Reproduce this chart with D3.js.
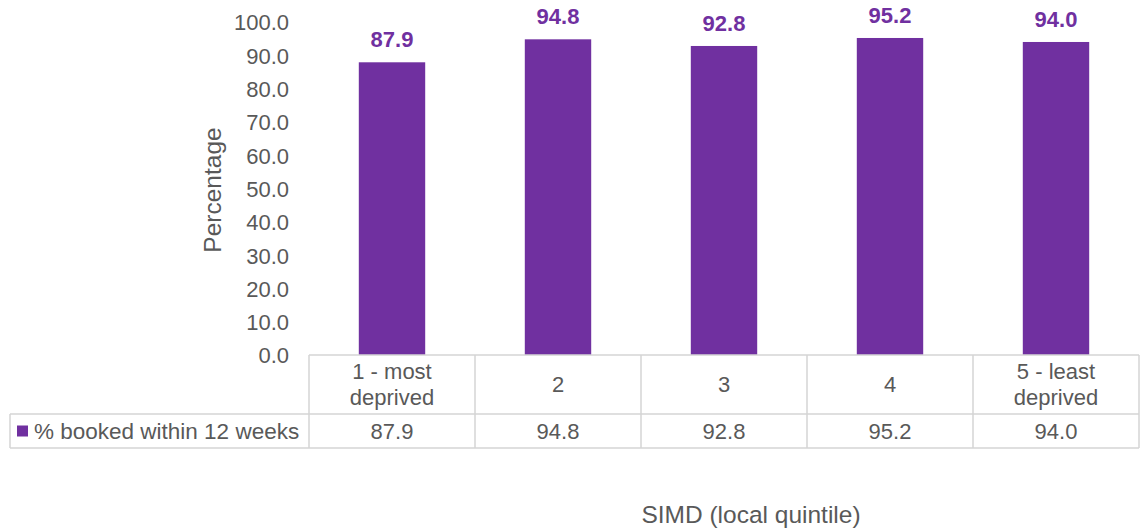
<!DOCTYPE html>
<html>
<head>
<meta charset="utf-8">
<script src="https://cdn.jsdelivr.net/npm/d3@7"></script>
<style>
  html, body { margin: 0; padding: 0; background: #fff; }
  svg { display: block; font-family: "Liberation Sans", Arial, sans-serif; }
</style>
</head>
<body>
<svg id="chart" width="1140" height="530"></svg>
<script>
const categories = [["1 - most", "deprived"], ["2"], ["3"], ["4"], ["5 - least", "deprived"]];
const categoryKeys = ["1 - most deprived", "2", "3", "4", "5 - least deprived"];
const values = [87.9, 94.8, 92.8, 95.2, 94.0];
const seriesName = "% booked within 12 weeks";
const yTicks = [0, 10, 20, 30, 40, 50, 60, 70, 80, 90, 100];
const yTitle = "Percentage";
const xTitle = "SIMD (local quintile)";

const svg = d3.select("#chart");
const purple = "#7030a0";
const grey = "#595959";
const border = "#d4d4d4";

const plotLeft = 309, plotRight = 1139, plotTop = 22, plotBottom = 355;
const row1Bottom = 414, row2Bottom = 448, tableLeft = 10;

const x = d3.scaleBand().domain(categoryKeys).range([plotLeft, plotRight]).paddingInner(0.6).paddingOuter(0.3);
const xCol = d3.scaleBand().domain(categoryKeys).range([plotLeft, plotRight]).padding(0);
const y = d3.scaleLinear().domain([0, 100]).range([plotBottom, plotTop]);

// Y axis (labels only)
const yAxis = d3.axisLeft(y).tickValues(yTicks).tickFormat(d3.format(".1f")).tickSize(0).tickPadding(0);
const yg = svg.append("g").attr("transform", `translate(289,0)`).call(yAxis);
yg.select(".domain").remove();
yg.selectAll("text").attr("fill", grey).style("font-size", "22px").attr("dy", "0.36em");

// Bars
svg.append("g").selectAll("rect").data(values).join("rect")
  .attr("x", (d, i) => x(categoryKeys[i]))
  .attr("width", x.bandwidth())
  .attr("y", d => y(d))
  .attr("height", d => y(0) - y(d))
  .attr("fill", purple);

// Data labels
svg.append("g").selectAll("text").data(values).join("text")
  .attr("x", (d, i) => x(categoryKeys[i]) + x.bandwidth() / 2)
  .attr("y", d => y(d) - 15)
  .attr("text-anchor", "middle")
  .attr("fill", purple)
  .style("font-size", "22px")
  .style("font-weight", "bold")
  .text(d => d3.format(".1f")(d));

// Table lines
const tg = svg.append("g").attr("stroke", border).attr("stroke-width", 1.5).attr("fill", "none");
tg.append("line").attr("x1", plotLeft).attr("x2", plotRight).attr("y1", plotBottom).attr("y2", plotBottom);
tg.append("line").attr("x1", tableLeft).attr("x2", plotRight).attr("y1", row1Bottom).attr("y2", row1Bottom);
tg.append("line").attr("x1", tableLeft).attr("x2", plotRight).attr("y1", row2Bottom).attr("y2", row2Bottom);
tg.append("line").attr("x1", tableLeft).attr("x2", tableLeft).attr("y1", row1Bottom).attr("y2", row2Bottom);
const bounds = categoryKeys.map(k => xCol(k)).concat([plotRight]);
tg.selectAll("line.v").data(bounds).join("line").attr("class", "v")
  .attr("x1", d => d).attr("x2", d => d).attr("y1", plotBottom).attr("y2", row2Bottom);

// Category labels
const catG = svg.append("g");
categories.forEach((lines, i) => {
  const cx = xCol(categoryKeys[i]) + xCol.bandwidth() / 2;
  const midY = (plotBottom + row1Bottom) / 2;
  const lh = 26;
  const startY = midY - (lines.length - 1) * lh / 2;
  lines.forEach((t, j) => {
    catG.append("text").attr("x", cx).attr("y", startY + j * lh).attr("dy", "0.36em")
      .attr("text-anchor", "middle").attr("fill", grey).style("font-size", "22px").text(t);
  });
});

// Value row
const rowMid = (row1Bottom + row2Bottom) / 2;
svg.append("g").selectAll("text").data(values).join("text")
  .attr("x", (d, i) => xCol(categoryKeys[i]) + xCol.bandwidth() / 2)
  .attr("y", rowMid).attr("dy", "0.36em")
  .attr("text-anchor", "middle").attr("fill", grey).style("font-size", "22px")
  .text(d => d3.format(".1f")(d));

// Legend key in table
svg.append("rect").attr("x", 17).attr("y", rowMid - 5.5).attr("width", 11).attr("height", 11).attr("fill", purple);
svg.append("text").attr("x", 34).attr("y", rowMid).attr("dy", "0.36em")
  .attr("fill", grey).style("font-size", "22.5px").text(seriesName);

// Axis titles
svg.append("text").attr("transform", `translate(221,190) rotate(-90)`)
  .attr("text-anchor", "middle").attr("fill", grey).style("font-size", "24.5px").text(yTitle);
svg.append("text").attr("x", 751).attr("y", 514).attr("dy", "0.36em")
  .attr("text-anchor", "middle").attr("fill", grey).style("font-size", "24.5px").text(xTitle);
</script>
</body>
</html>
